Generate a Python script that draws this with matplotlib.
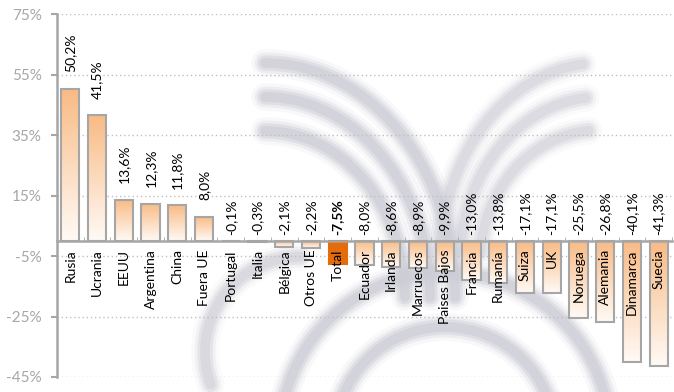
import numpy as np
import matplotlib
matplotlib.use("Agg")
import matplotlib.pyplot as plt
from matplotlib.patches import Arc

plt.rcParams['font.family'] = ['Lato', 'DejaVu Sans']

paises = ["Rusia", "Ucrania", "EEUU", "Argentina", "China", "Fuera UE", "Portugal",
          "Italia", "Bélgica", "Otros UE", "Total", "Ecuador", "Irlanda", "Marruecos",
          "Paises Bajos", "Francia", "Rumanía", "Suiza", "UK", "Noruega", "Alemania",
          "Dinamarca", "Suecia"]
variacion = [50.2, 41.5, 13.6, 12.3, 11.8, 8.0, -0.1, -0.3, -2.1, -2.2, -7.5, -8.0,
             -8.6, -8.9, -9.9, -13.0, -13.8, -17.1, -17.1, -25.5, -26.8, -40.1, -41.3]
etiquetas = ["50,2%", "41,5%", "13,6%", "12,3%", "11,8%", "8,0%", "-0,1%", "-0,3%",
             "-2,1%", "-2,2%", "-7,5%", "-8,0%", "-8,6%", "-8,9%", "-9,9%", "-13,0%",
             "-13,8%", "-17,1%", "-17,1%", "-25,5%", "-26,8%", "-40,1%", "-41,3%"]
yticks = [-45, -25, -5, 15, 35, 55, 75]

W, H = 674, 392
fig = plt.figure(figsize=(W / 100, H / 100), dpi=100)

# faint logo watermark behind the chart (pixel coords, y up)
bg = fig.add_axes([0, 0, 1, 1], zorder=0)
bg.set_xlim(0, W)
bg.set_ylim(0, H)
bg.axis("off")
wm = "#cdcdd6"
def arcs(cx, cy, sizes, t1, t2, k=1.0):
    for rx, ry in sizes:
        for lw, a in ((20, 0.12), (15, 0.25), (11, 0.45), (7, 0.6)):
            bg.add_patch(Arc((cx, cy), 2 * rx, 2 * ry, theta1=t1, theta2=t2,
                             color=wm, lw=lw, alpha=a * k, capstyle="round"))
arcs(265, 95, [(190, 234), (165, 200), (140, 166)], 0, 90)
arcs(600, 130, [(160, 199), (140, 165), (120, 132)], 95, 175, k=0.7)
arcs(445, -45, [(165, 165), (110, 110)], 0, 180)
arcs(300, 40, [(95, 95)], 90, 200, k=0.8)

ax = fig.add_axes([57 / W, 1 - 377 / H, 615 / W, 363 / H], zorder=1)
ax.patch.set_alpha(0)

x = np.arange(len(paises))
bars = ax.bar(x, variacion, width=0.68, facecolor="none", edgecolor="#a6a6a6",
              linewidth=1.5, zorder=3)

grad = np.linspace(1, 0, 100).reshape(-1, 1)
cmap = matplotlib.colors.LinearSegmentedColormap.from_list("g", ["#fffaf5", "#f9bb85"])
for i, b in enumerate(bars):
    x0, w = b.get_x(), b.get_width()
    y0, y1 = sorted([0, b.get_height()])
    if paises[i] == "Total":
        b.set_facecolor("#e46c0a")
        b.set_edgecolor("#e46c0a")
        continue
    ax.imshow(grad, extent=[x0, x0 + w, y0, y1], cmap=cmap, aspect="auto",
              origin="upper", zorder=2, vmin=0, vmax=1)

for i, v in enumerate(variacion):
    off = 12 if v > 0 else 4
    ax.annotate(etiquetas[i], (x[i], max(v, 0)), xytext=(0, off), textcoords="offset points",
                rotation=90, ha="center", va="bottom", fontsize=10, color="black",
                fontweight="bold" if paises[i] == "Total" else "normal", zorder=5)
    # category names sit just under the zero line, over the bars
    ax.annotate(paises[i], (x[i], 0), xytext=(0, -6), textcoords="offset points",
                rotation=90, ha="center", va="top", fontsize=10, color="black", zorder=6)

ax.set_xlim(-0.5, len(paises) - 0.5)
ax.set_ylim(-45, 75)
ax.set_yticks(yticks)
ax.set_yticklabels([f"{t}%" for t in yticks], color="#a6a6a6", fontsize=11)
ax.yaxis.grid(True, color="#c0c0c0", linestyle=(0, (1, 2)), linewidth=1)
ax.set_axisbelow(True)

ax.spines["bottom"].set_position(("data", 0))
ax.spines["bottom"].set_zorder(4)
for s in ("top", "right"):
    ax.spines[s].set_visible(False)
for s in ("left", "bottom"):
    ax.spines[s].set_color("#a6a6a6")
    ax.spines[s].set_linewidth(1.8)
ax.set_xticks(x)
ax.set_xticklabels([])
ax.tick_params(axis="x", length=0)
ax.set_xticks(np.arange(len(paises) + 1) - 0.5, minor=True)
ax.tick_params(axis="x", which="minor", direction="in", length=3, color="#a6a6a6")
ax.tick_params(axis="y", length=4, color="#a6a6a6", width=1.5, pad=7)

fig.savefig("out.png", dpi=100)
